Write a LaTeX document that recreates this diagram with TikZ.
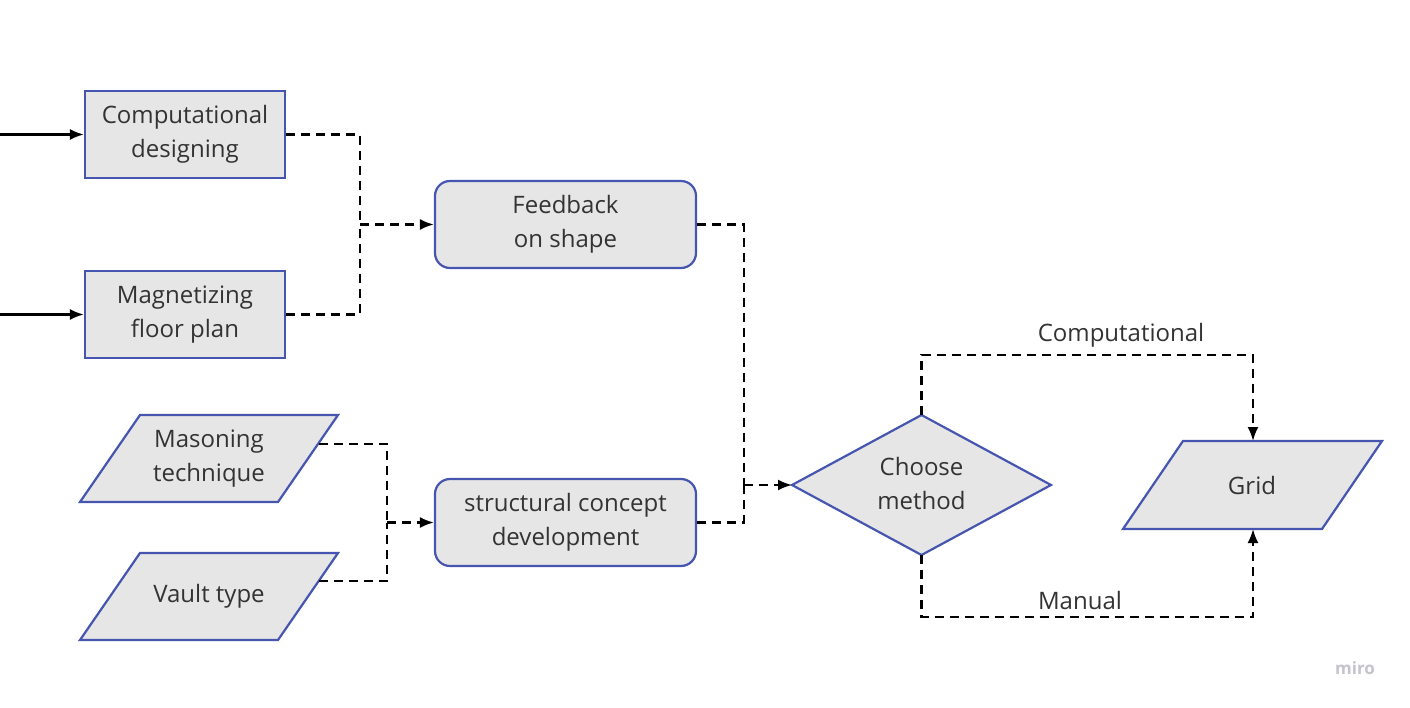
\documentclass[tikz,border=0pt]{standalone}
\usepackage{fontspec}
\setmainfont{Open Sans}
\usetikzlibrary{arrows.meta}
\definecolor{bordc}{HTML}{4655B0}
\definecolor{fillc}{HTML}{E6E6E6}
\definecolor{txtc}{HTML}{333333}
\definecolor{miroc}{HTML}{C4C4CA}
\begin{document}
\begin{tikzpicture}[x=1pt,y=-1pt,
  boxstyle/.style={draw=bordc, fill=fillc, line width=2.2pt},
  lbl/.style={text=txtc, font=\fontsize{24}{34}\selectfont, align=center},
  rectbox/.style={boxstyle, lbl, minimum width=200pt, minimum height=87pt, inner sep=0pt},
  roundbox/.style={rectbox, minimum width=261pt, rounded corners=15pt},
  dashconn/.style={line width=2.2pt, dash pattern=on 9pt off 6pt},
  tip/.style={-{Latex[length=14pt,width=11pt]}},
  solidconn/.style={line width=2.2pt, -{Latex[length=14pt,width=11pt]}}
]
\useasboundingbox (0,0) rectangle (1410,708);
\fill[white] (0,0) rectangle (1410,708);

% rectangles
\node[rectbox] (cd) at (185,134.5) {Computational\\designing};
\node[rectbox] (mf) at (185,314.5) {Magnetizing\\floor plan};
\node[roundbox] (fb) at (565.5,224.5) {Feedback\\on shape};
\node[roundbox] (sc) at (565.5,522.5) {structural concept\\development};

% parallelograms
\draw[boxstyle] (140,415) -- (338,415) -- (278,502) -- (80,502) -- cycle;
\node[lbl] (mt) at (209,458.5) {Masoning\\technique};
\draw[boxstyle] (140,553) -- (338,553) -- (278,640) -- (80,640) -- cycle;
\node[lbl] (vt) at (209,596.5) {Vault type};
\draw[boxstyle] (1183,441) -- (1382,441) -- (1322,529) -- (1123,529) -- cycle;
\node[lbl] (gr) at (1252,485) {Grid};

% diamond
\draw[boxstyle] (792,485) -- (921.5,415) -- (1051,485) -- (921.5,555) -- cycle;
\node[lbl] (cm) at (921.5,483) {Choose\\method};
\coordinate (cmL) at (792,485);
\coordinate (cmT) at (921.5,415);
\coordinate (cmB) at (921.5,555);
\coordinate (grT) at (1253,441);
\coordinate (grB) at (1253,529);

% connector anchors
\coordinate (mtR) at (319,444);
\coordinate (vtR) at (319,581);
\coordinate (in1) at (0,134.5);
\coordinate (in2) at (0,314.5);
\coordinate (j1) at (360,224.5);
\coordinate (j2) at (387,522.5);
\coordinate (j3) at (744,485);
\coordinate (top) at (921.5,355);
\coordinate (bot) at (921.5,617);

% solid inputs
\draw[solidconn] (in1) -- (cd.west);
\draw[solidconn] (in2) -- (mf.west);

% dashed connectors
\draw[dashconn] (cd.east) -| (j1);
\draw[dashconn] (mf.east) -| (j1);
\draw[dashconn, tip] (j1) -- (fb.west);

\draw[dashconn] (mtR) -| (j2);
\draw[dashconn] (vtR) -| (j2);
\draw[dashconn, tip] (j2) -- (sc.west);

\draw[dashconn] (fb.east) -| (j3);
\draw[dashconn] (sc.east) -| (j3);
\draw[dashconn, tip] (j3) -- (cmL);

\draw[dashconn, tip] (cmT) -- (top) -| (grT);
\draw[dashconn, tip] (cmB) -- (bot) -| (grB);

\node[lbl] (lc) at (1121,335) {Computational};
\node[lbl] (lm) at (1080,600) {Manual};

\node[text=miroc, font=\fontsize{17}{20}\selectfont\bfseries] (miro) at (1355,668) {miro};
\end{tikzpicture}
\end{document}
